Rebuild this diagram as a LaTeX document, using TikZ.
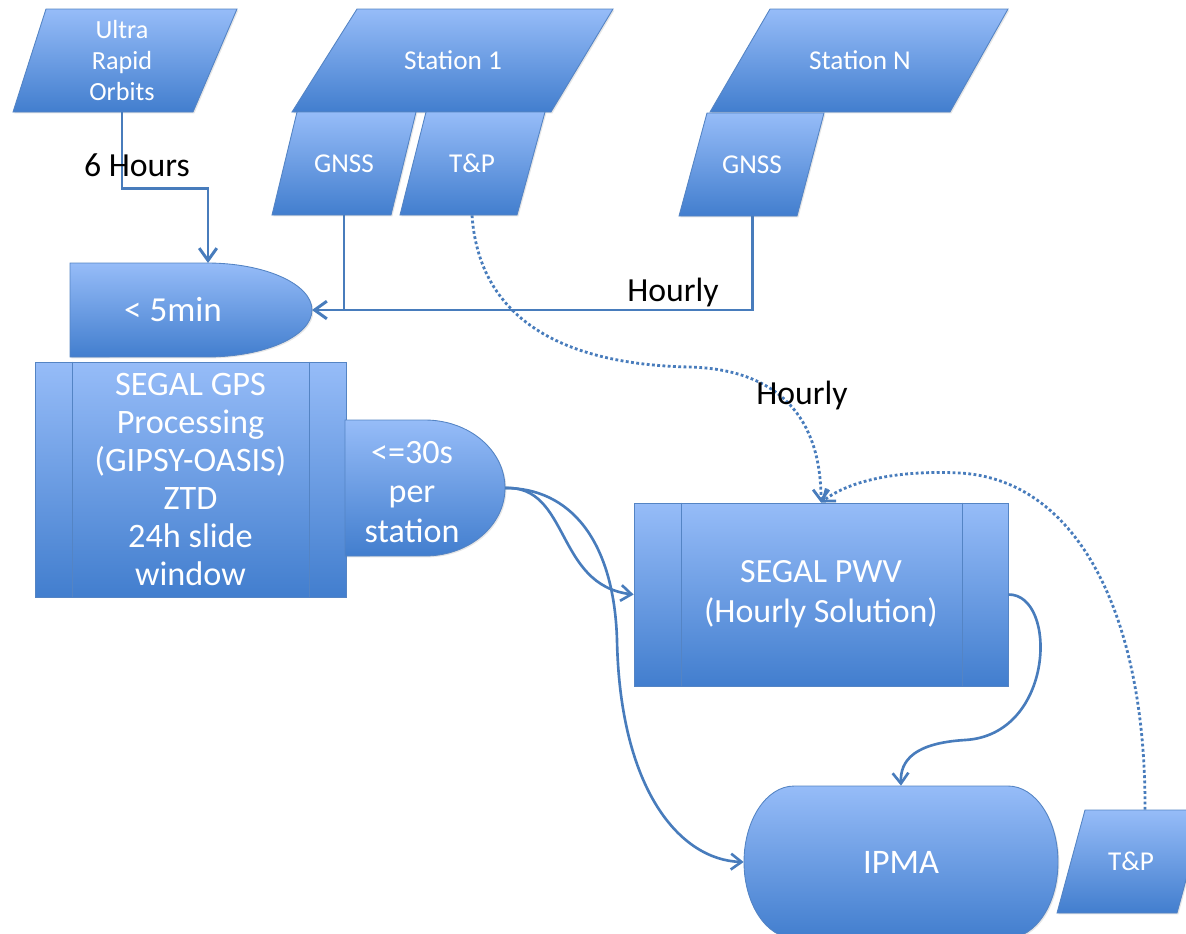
\documentclass[tikz,border=0pt]{standalone}
\usepackage{fontspec}
\setmainfont{Carlito}
\usetikzlibrary{arrows.meta,shadows}

\definecolor{boxtop}{RGB}{150,188,248}
\definecolor{boxbot}{RGB}{66,126,206}
\definecolor{boxline}{RGB}{84,132,196}
\definecolor{flowblue}{RGB}{72,124,188}

\begin{document}
\begin{tikzpicture}[x=0.02cm, y=-0.02cm,
    shadebox/.style={top color=boxtop, bottom color=boxbot, draw=boxline, line width=0.5pt,
      drop shadow={opacity=0.2, shadow xshift=0.8pt, shadow yshift=-0.8pt}},
    boxtext/.style={text=white, align=center, inner sep=0pt},
    datatext/.style={boxtext, minimum height=2.06cm, font=\fontsize{15.5}{17}\selectfont},
    process/.style={rectangle, shadebox, inner sep=0pt, text=white, align=center},
    tag/.style={text=black, inner sep=0pt, font=\fontsize{19.2}{22}\selectfont},
    flow/.style={draw=flowblue, line width=1.7pt},
    arrow/.style={flow, -{Straight Barb[length=7pt, width=10pt]}},
    curve/.style={draw=flowblue, line width=1.5pt, -{Straight Barb[length=6pt, width=9pt]}},
    dotarrow/.style={curve, line width=1.6pt, dash pattern=on 1.6pt off 1.4pt}
  ]
    \useasboundingbox (0,0) rectangle (1186,933);
    \clip (0,0) rectangle (1186,933);

    % Inputs
    \path[shadebox] (46,9) -- (237,9) -- (193,112) -- (13,112) -- cycle;
    \node[datatext, font=\fontsize{14.9}{17.6}\selectfont] (orbits) at (122,60.5) {Ultra\\Rapid\\Orbits};
    \path[shadebox] (357,9) -- (613,9) -- (551,112) -- (292,112) -- cycle;
    \node[datatext] (station1) at (453,60.5) {Station 1};
    \path[shadebox] (770,9) -- (1008,9) -- (950,112) -- (710,112) -- cycle;
    \node[datatext] (stationN) at (860,60.5) {Station N};
    \path[shadebox] (297,112) -- (416,112) -- (391,215) -- (272,215) -- cycle;
    \node[datatext] (gnss1) at (344,163.5) {GNSS};
    \path[shadebox] (426,112) -- (545,112) -- (517,215) -- (400,215) -- cycle;
    \node[datatext] (tp1) at (472,163.5) {T\&P};
    \path[shadebox] (707,113) -- (824,113) -- (797,216) -- (679,216) -- cycle;
    \node[datatext] (gnssN) at (752,164.5) {GNSS};
    \path[shadebox] (1085,810) -- (1205,810) -- (1177,913) -- (1057,913) -- cycle;
    \node[datatext] (tp2) at (1131,861.5) {T\&P};

    % Processing
    \path[shadebox] (70,263) -- (207,263) arc[start angle=90, end angle=-90, x radius=2.1cm, y radius=0.94cm] -- (70,357) -- cycle;
    \node[boxtext, font=\fontsize{20}{22}\selectfont] (wait5) at (173,310) {< 5min};
    \coordinate (wait5 in) at (208,263);
    \coordinate (wait5 tip) at (312,310);

    \node[process, minimum width=6.22cm, minimum height=4.7cm, font=\fontsize{19.5}{21.7}\selectfont]
      (gps) at (190.5,479.5) {SEGAL GPS\\Processing\\(GIPSY-OASIS)\\ZTD\\24h slide\\window};
    \draw[boxline] ([xshift=0.76cm]gps.north west) -- ([xshift=0.76cm]gps.south west)
                   ([xshift=-0.74cm]gps.north east) -- ([xshift=-0.74cm]gps.south east);

    \path[shadebox] (345,420) -- (425,420) arc[start angle=90, end angle=-90, x radius=1.6cm, y radius=1.36cm] -- (345,556) -- cycle;
    \node[boxtext, font=\fontsize{19.4}{22.5}\selectfont] (wait30) at (412,492) {<=30s\\per\\station};
    \coordinate (wait30 tip) at (505,488);

    \node[process, minimum width=7.48cm, minimum height=3.66cm, font=\fontsize{19.3}{22.8}\selectfont]
      (pwv) at (821,594.5) {SEGAL PWV\\(Hourly Solution)};
    \draw[boxline] ([xshift=0.96cm]pwv.north west) -- ([xshift=0.96cm]pwv.south west)
                   ([xshift=-0.92cm]pwv.north east) -- ([xshift=-0.92cm]pwv.south east);

    % Output
    \path[shadebox] (794,786) -- (1008,786) arc[start angle=90, end angle=-90, x radius=1cm, y radius=1.52cm]
      -- (794,938) arc[start angle=270, end angle=90, x radius=1cm, y radius=1.52cm] -- cycle;
    \node[boxtext, minimum width=6.28cm, minimum height=3.04cm, font=\fontsize{19.6}{22}\selectfont] (ipma) at (901,862) {IPMA};

    % Connectors
    \draw[arrow] (orbits.south) -- ++(0,76) -| (wait5 in);
    \draw[flow] (gnss1.south) -- (gnss1.south |- wait5 tip);
    \draw[arrow] (gnssN.south) |- (wait5 tip);
    \draw[dotarrow] (tp1.south) .. controls (480,330) and (580,365) .. (690,367)
      .. controls (790,370) and (821,430) .. (pwv.north);
    \draw[dotarrow] ([xshift=0.28cm]tp2.north) .. controls (1146,620) and (1080,480) .. (960,473)
      .. controls (900,470) and (850,480) .. (pwv.north);
    \draw[curve] (wait30 tip) .. controls (570,485) and (555,585) .. (pwv.west);
    \draw[curve] (wait30 tip) .. controls (570,488) and (614,540) .. (617,640)
      .. controls (620,790) and (680,860) .. (ipma.west);
    \draw[curve] (pwv.east) .. controls (1058,594) and (1055,735) .. (965,740)
      .. controls (915,743) and (900,760) .. (ipma.north);

    % Labels
    \node[tag] (hours6) at (137,165) {6 Hours};
    \node[tag] (hourly1) at (673,293) {Hourly};
    \node[tag] (hourly2) at (802,396) {Hourly};
\end{tikzpicture}
\end{document}
